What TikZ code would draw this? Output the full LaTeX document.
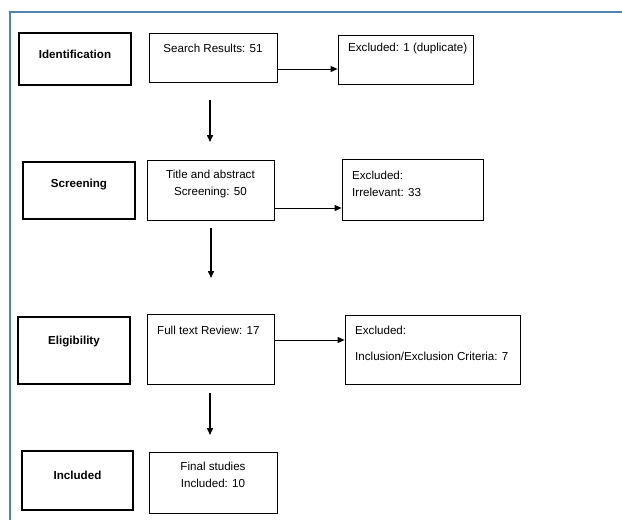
\documentclass[tikz,border=0pt]{standalone}
\usepackage{fontspec}
\setmainfont{Liberation Sans}
\usetikzlibrary{arrows.meta}
\definecolor{framec}{RGB}{84,130,172}
\begin{document}
\begin{tikzpicture}[x=1pt,y=-1pt,
  box/.style={draw=black,line width=0.8pt,rectangle,inner sep=0pt},
  stagebox/.style={draw=black,line width=2.6pt,rectangle,inner sep=0pt},
  txt/.style={inner sep=0pt,font=\fontsize{11.6}{17}\selectfont,align=center},
  btxt/.style={inner sep=0pt,font=\fontsize{11.6}{17}\selectfont\bfseries},
  harrow/.style={line width=0.9pt,-{Triangle[length=7pt,width=6pt]}},
  varrow/.style={line width=1.5pt,-{Triangle[length=7pt,width=6pt]}}]
\useasboundingbox (0,0) rectangle (622,520);
% frame
\draw[framec,line width=1.3pt] (10,522) -- (10,12) -- (624,12);
% row 1
\node[stagebox,minimum width=112,minimum height=52] (id) at (75,59) {};
\node[btxt] at (75,54) {Identification};
\node[box,minimum width=128,minimum height=49] (search) at (213,57.5) {};
\node[txt] at (213,48) {Search Results: 51};
\node[box,minimum width=135,minimum height=49] (ex1) at (405.5,59.5) {};
\node[txt,anchor=west] at (348,48) {Excluded: 1 (duplicate)};
\draw[harrow] (search.east |- 0,69) -- (ex1.west |- 0,69);
\coordinate (v1a) at (210,100);
\coordinate (v1b) at (210,142);
\draw[varrow] (v1a) -- (v1b);
% row 2
\node[stagebox,minimum width=112,minimum height=57] (scr) at (79,190.5) {};
\node[btxt] at (79,185) {Screening};
\node[box,minimum width=127,minimum height=60] (title) at (210.5,190) {};
\node[txt] at (210.5,183.5) {Title and abstract\\Screening: 50};
\node[box,minimum width=141,minimum height=61] (ex2) at (412.5,189.5) {};
\node[txt,anchor=west] at (352,175) {Excluded:};
\node[txt,anchor=west] at (352,192) {Irrelevant: 33};
\draw[harrow] (title.east |- 0,208) -- (ex2.west |- 0,208);
\coordinate (v2a) at (211,228);
\coordinate (v2b) at (211,278);
\draw[varrow] (v2a) -- (v2b);
% row 3
\node[stagebox,minimum width=112,minimum height=67] (eli) at (74,350.5) {};
\node[btxt] at (74,342) {Eligibility};
\node[box,minimum width=127,minimum height=70] (full) at (210.5,349) {};
\node[txt,anchor=west] at (157,330) {Full text Review: 17};
\node[box,minimum width=175,minimum height=69] (ex3) at (432.5,349.5) {};
\node[txt,anchor=west] at (355,330) {Excluded:};
\node[txt,anchor=west] at (355,356) {Inclusion/Exclusion Criteria: 7};
\draw[harrow] (full.east |- 0,340) -- (ex3.west |- 0,340);
\coordinate (v3a) at (210,393);
\coordinate (v3b) at (210,435);
\draw[varrow] (v3a) -- (v3b);
% row 4
\node[stagebox,minimum width=111,minimum height=59] (inc) at (77.5,480.5) {};
\node[btxt] at (77.5,475) {Included};
\node[box,minimum width=128,minimum height=61] (final) at (213,482.5) {};
\node[txt] at (213,475) {Final studies\\Included: 10};
\end{tikzpicture}
\end{document}
